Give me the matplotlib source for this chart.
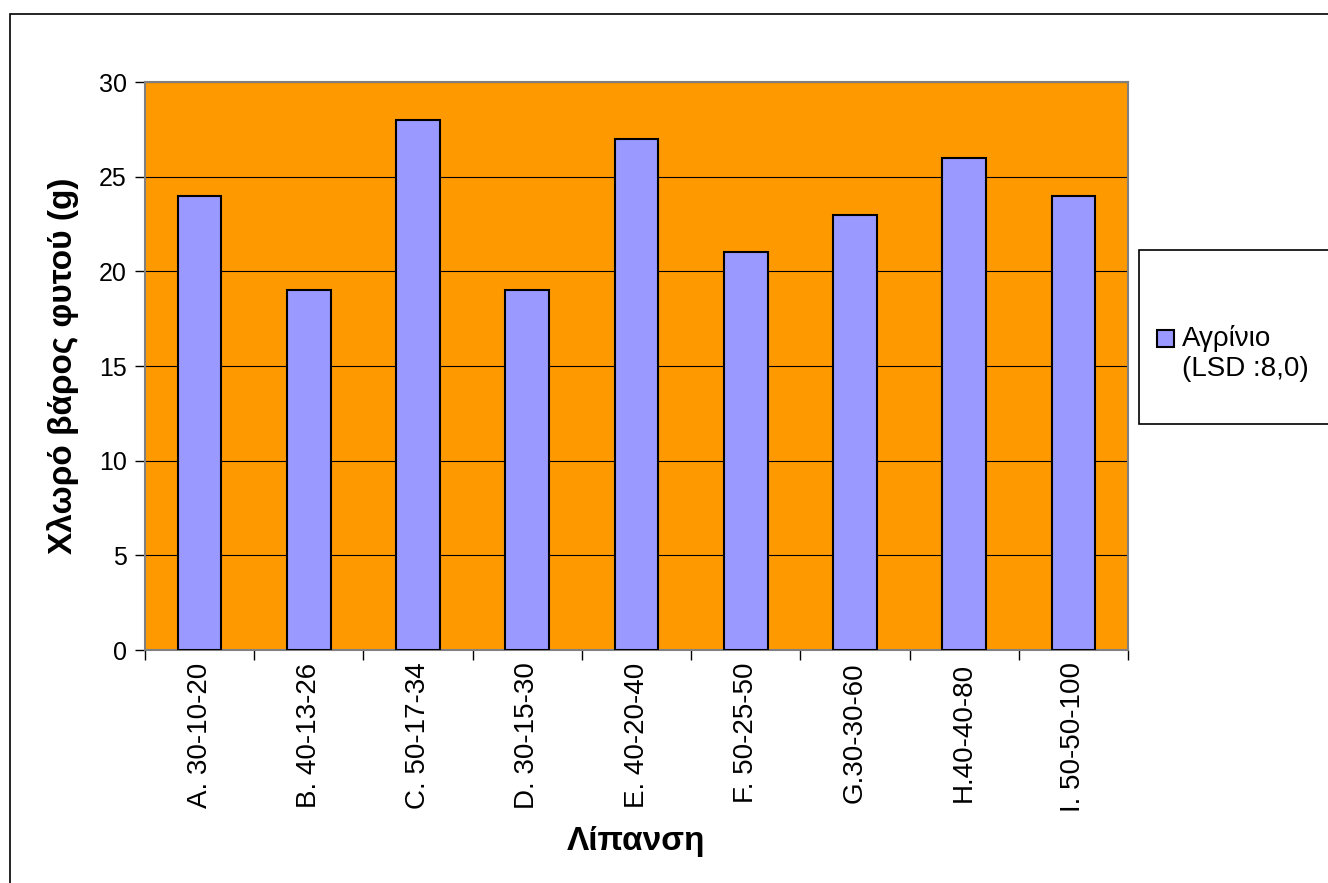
import matplotlib.pyplot as plt
from matplotlib.patches import Rectangle

plt.rcParams['font.family'] = ['Liberation Sans', 'DejaVu Sans']

# --- Data ---
categories = ["A. 30-10-20", "B. 40-13-26", "C. 50-17-34", "D. 30-15-30", "E. 40-20-40",
              "F. 50-25-50", "G.30-30-60", "H.40-40-80", "I. 50-50-100"]
values = [24, 19, 28, 19, 27, 21, 23, 26, 24]
series_label = "Αγρίνιο\n(LSD :8,0)"
bar_color = '#9999FF'

W, H = 1328, 883
fig = plt.figure(figsize=(W / 100, H / 100), dpi=100)

# outer chart border (right/bottom fall off the image)
fig.patches.append(Rectangle((10 / W, -0.01), 1.02, 1 - 14 / H + 0.01,
                             transform=fig.transFigure, fill=False,
                             edgecolor='black', linewidth=1.2))

ax = fig.add_axes([145 / W, 1 - 650 / H, (1128 - 145) / W, (650 - 82) / H])
ax.set_facecolor('#FF9900')

x = range(len(categories))
ax.bar(x, values, width=0.4, color=bar_color, edgecolor='black',
       linewidth=1.5, zorder=3)

ax.set_xlim(-0.5, len(categories) - 0.5)
ax.set_ylim(0, 30)
ax.set_yticks(range(0, 31, 5))
ax.yaxis.grid(True, color='black', linewidth=0.8, zorder=1)
ax.set_axisbelow(True)

ax.set_xticks(list(x))
ax.set_xticklabels(categories, rotation=90, fontsize=20)
ax.tick_params(axis='x', which='major', length=0, pad=9)
ax.set_xticks([i - 0.5 for i in range(len(categories) + 1)], minor=True)
ax.tick_params(axis='x', which='minor', length=7, width=1, direction='out')
ax.tick_params(axis='y', labelsize=18, length=7, width=1, direction='out', pad=6)

for s in ax.spines.values():
    s.set_color('#808080')
    s.set_linewidth(1.5)

ax.set_xlabel("Λίπανση", fontsize=24, fontweight='bold', labelpad=10)
ax.set_ylabel("Χλωρό βάρος φυτού (g)", fontsize=24, fontweight='bold', labelpad=14)

# --- legend box (key square aligned with first line, like the original) ---
fig.patches.append(Rectangle((1139 / W, 1 - 424 / H), 0.2, (424 - 250) / H,
                             transform=fig.transFigure, facecolor='white',
                             edgecolor='black', linewidth=1.2))
fig.patches.append(Rectangle((1157 / W, 1 - 347 / H), 17 / W, 17 / H,
                             transform=fig.transFigure, facecolor=bar_color,
                             edgecolor='black', linewidth=1.5))
fig.text(1182 / W, 1 - 325 / H, series_label, fontsize=20, va='top', ha='left',
         linespacing=1.2)

plt.savefig("out.png", dpi=100)
